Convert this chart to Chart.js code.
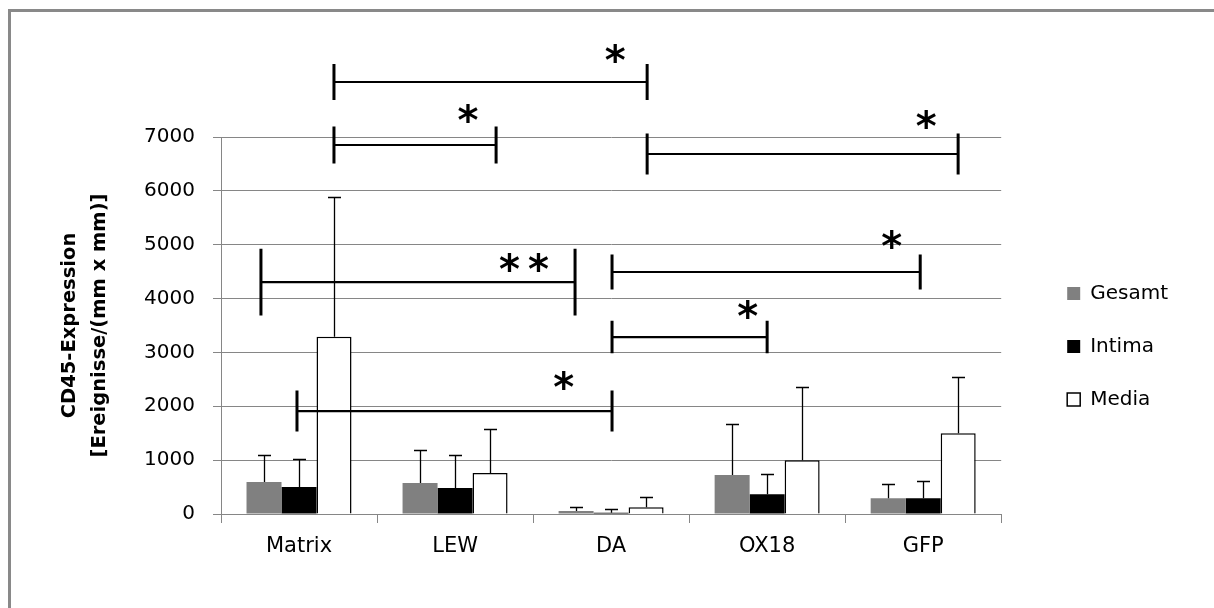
<!DOCTYPE html>
<html>
<head>
<meta charset="utf-8">
<script src="https://cdn.jsdelivr.net/npm/chart.js@4.4.0/dist/chart.umd.min.js"></script>
<style>
  body { margin: 0; background: #fff; }
  #frame { position: absolute; left: 8px; top: 9px; width: 1300px; height: 700px;
           border-left: 3px solid #898989; border-top: 3px solid #898989; }
  #wrap { position: absolute; left: 0; top: 0; width: 1214px; height: 608px; }
</style>
</head>
<body>
<div id="frame"></div>
<div id="wrap"><canvas id="cd45-chart" width="1214" height="608"></canvas></div>
<script>
const categories = ['Matrix', 'LEW', 'DA', 'OX18', 'GFP'];
const seriesNames = ['Gesamt', 'Intima', 'Media'];
const gesamt = [594, 576, 56, 724, 291];
const intima = [500, 483, 22, 365, 291];
const media = [3290, 761, 124, 997, 1498];
const gesamtSD = [500, 610, 75, 940, 260];
const intimaSD = [520, 610, 75, 372, 322];
const mediaSD = [2590, 817, 186, 1355, 1040];
const yTicks = [0, 1000, 2000, 3000, 4000, 5000, 6000, 7000];

// significance brackets: from/to in category units, level = value of the bar line
const brackets = [
    { from: 0.224, to: 2.231, level: 8021, tick: 335, label: '*', lx: 2.026, ly: 8559 },
    { from: 0.224, to: 1.263, level: 6851, tick: 345, label: '*', lx: 1.083, ly: 7445 },
    { from: 2.231, to: 4.224, level: 6684, tick: 380, label: '*', lx: 4.019, ly: 7334 },
    { from: -0.244, to: 1.769, level: 4307, tick: 620, label: '**', lx: 1.442, ly: 4670 },
    { from: 2.006, to: 3.981, level: 4493, tick: 325, label: '*', lx: 3.798, ly: 5106 },
    { from: 2.006, to: 3.0, level: 3286, tick: 300, label: '*', lx: 2.875, ly: 3806 },
    { from: -0.013, to: 2.006, level: 1912, tick: 380, label: '*', lx: 1.696, ly: 2479 },
];

Chart.defaults.font.family = "'DejaVu Sans', sans-serif";
Chart.defaults.color = '#000';

const overlay = {
    id: 'overlay',
    afterDatasetsDraw(chart) {
        const { ctx, scales: { x, y } } = chart;
        ctx.save();
        ctx.strokeStyle = '#000';

        // error bars (upper only)
        chart.data.datasets.forEach(function(ds, i) {
            chart.getDatasetMeta(i).data.forEach(function(bar, j) {
                const top = Math.round(y.getPixelForValue(ds.data[j] + ds.sd[j])) + 0.5;
                const bx = Math.round(bar.x) + 0.5;
                ctx.lineWidth = 1.3;
                ctx.beginPath();
                ctx.moveTo(bx, bar.y);
                ctx.lineTo(bx, top);
                ctx.moveTo(bx - 6.5, top);
                ctx.lineTo(bx + 6.5, top);
                ctx.stroke();
            });
        });

        // brackets with asterisks
        const x0 = x.getPixelForValue(0);
        const step = x.getPixelForValue(1) - x0;
        const px = p => x0 + p * step;
        ctx.font = "bold 40px 'DejaVu Sans'";
        ctx.fillStyle = '#000';
        ctx.textAlign = 'center';
        ctx.textBaseline = 'alphabetic';
        brackets.forEach(function(b) {
            const xa = px(b.from), xb = px(b.to);
            const yl = y.getPixelForValue(b.level);
            const t1 = y.getPixelForValue(b.level + b.tick);
            const t2 = y.getPixelForValue(b.level - b.tick);
            ctx.lineWidth = 2.2;
            ctx.beginPath();
            ctx.moveTo(xa, yl);
            ctx.lineTo(xb, yl);
            ctx.stroke();
            ctx.lineWidth = 3;
            ctx.beginPath();
            ctx.moveTo(xa, t1);
            ctx.lineTo(xa, t2);
            ctx.moveTo(xb, t1);
            ctx.lineTo(xb, t2);
            ctx.stroke();

            const m = ctx.measureText('*');
            const dy = (m.actualBoundingBoxAscent - m.actualBoundingBoxDescent) / 2;
            const cy = y.getPixelForValue(b.ly) + dy;
            const n = b.label.length;
            for (let k = 0; k < n; k++) {
                ctx.fillText('*', px(b.lx) + (k - (n - 1) / 2) * 29, cy);
            }
        });
        ctx.restore();
    }
};

new Chart(document.getElementById('cd45-chart'), {
    type: 'bar',
    data: {
        labels: categories,
        datasets: [
            { label: seriesNames[0], data: gesamt, sd: gesamtSD, backgroundColor: '#808080', borderWidth: 0 },
            { label: seriesNames[1], data: intima, sd: intimaSD, backgroundColor: '#000000', borderWidth: 0 },
            { label: seriesNames[2], data: media, sd: mediaSD, backgroundColor: '#ffffff', borderColor: '#000000', borderWidth: 1.5 },
        ]
    },
    options: {
        responsive: false,
        animation: false,
        categoryPercentage: 0.673,
        barPercentage: 1,
        layout: { padding: { top: 137, left: 0, right: 36, bottom: 52 } },
        plugins: {
            legend: {
                position: 'right',
                labels: { boxWidth: 13, boxHeight: 13, padding: 33, font: { size: 20 }, color: '#000' }
            },
            tooltip: { enabled: false }
        },
        scales: {
            x: {
                grid: { offset: true, drawOnChartArea: false, drawTicks: true, tickLength: 9, color: '#868686' },
                border: { color: '#868686' },
                ticks: { font: { size: 21 }, color: '#000', padding: 11 },
                afterFit: function(scale) { scale.height = 42; }
            },
            y: {
                min: yTicks[0],
                max: yTicks[yTicks.length - 1],
                afterBuildTicks: function(scale) {
                    scale.ticks = yTicks.map(v => ({ value: v }));
                },
                afterFit: function(scale) { scale.width = 221; },
                grid: { color: '#868686', tickLength: 8 },
                border: { color: '#868686' },
                ticks: { font: { size: 20 }, color: '#000', padding: 18, callback: v => String(v) },
                title: {
                    display: true,
                    text: ['CD45-Expression', '[Ereignisse/(mm x mm)]'],
                    font: { size: 19.5, weight: 'bold', lineHeight: 1.538 },
                    color: '#000',
                    padding: { top: 55, bottom: 0 }
                }
            },
            y2: {
                position: 'right',
                display: true,
                grid: { display: false },
                border: { display: false },
                ticks: { display: false },
                afterFit: function(scale) { scale.width = 33; }
            }
        }
    },
    plugins: [overlay]
});
</script>
</body>
</html>
